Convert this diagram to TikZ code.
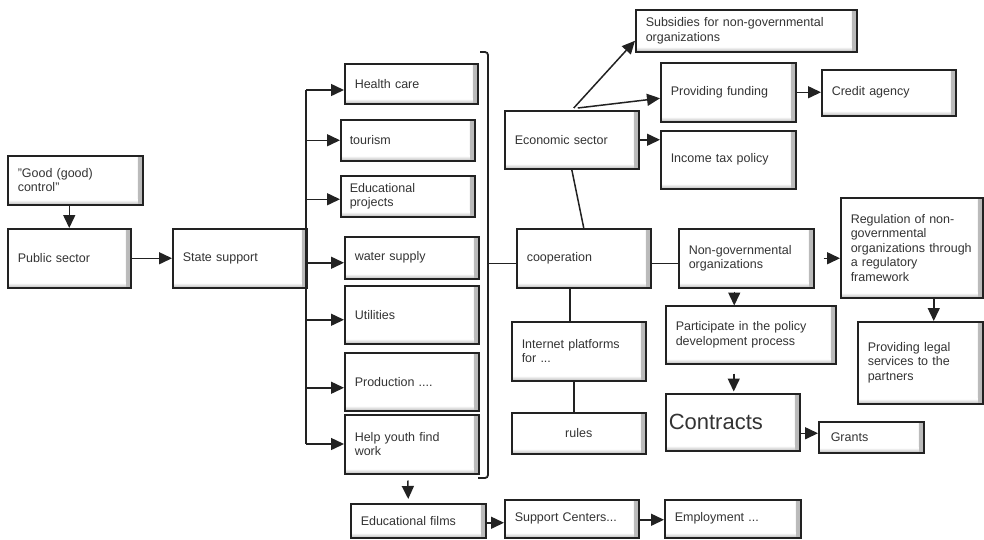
\documentclass[tikz,border=0pt]{standalone}
\usepackage{fontspec}
\setmainfont{Liberation Sans}
\usetikzlibrary{arrows.meta,calc}
\definecolor{ink}{HTML}{222222}
\definecolor{txt}{HTML}{333333}
\tikzset{
  box/.style={draw=ink, line width=1.5pt, anchor=north west, align=left,
    inner xsep=10pt, inner ysep=2pt, text=txt,
    font=\fontsize{12.5}{14.5}\selectfont,
    path picture={
      \shade[left color=white, right color=gray!55]
        ([xshift=-5pt]path picture bounding box.north east) rectangle (path picture bounding box.south east);
      \shade[top color=white, bottom color=gray!55]
        ([yshift=5pt]path picture bounding box.south west) rectangle ([xshift=-5pt]path picture bounding box.south east);
    }},
  arr/.style={draw=ink, line width=1.5pt, -{Triangle[length=13pt,width=12pt]}},
  ln/.style={draw=ink, line width=1.5pt},
}
\begin{document}
\begin{tikzpicture}[x=1pt,y=-1pt]
\useasboundingbox (0,0) rectangle (984,539);
% left part
\node[box, text width=115pt, minimum height=49pt] (gc) at (7,155) {"Good (good)\\control"};
\node[box, text width=103pt, minimum height=59pt] (ps) at (7,228) {Public sector};
\node[box, text width=114pt, minimum height=59pt] (ss) at (172,228) {State support};
% column
\node[box, text width=113pt, minimum height=40pt] (hc) at (344,63) {Health care};
\node[box, minimum height=41pt, inner xsep=9pt, text width=116pt] (tour) at (340,119) {tourism};
\node[box, text width=116pt, minimum height=41pt, inner xsep=9pt] (edp) at (340,175) {Educational\\projects};
\node[box, text width=114pt, minimum height=42pt] (ws) at (344,236) {water supply};
\node[box, text width=114pt, minimum height=58pt] (util) at (344,285) {Utilities};
\node[box, text width=114pt, minimum height=58pt] (prod) at (344,352) {Production ....};
\node[box, text width=114pt, minimum height=59pt] (hy) at (344,414) {Help youth find\\work};
% bottom row
\node[box, text width=115pt, minimum height=34pt] (ef) at (350,503) {Educational films};
\node[box, text width=114pt, minimum height=38pt] (sc) at (504,499) {Support Centers...};
\node[box, text width=116pt, minimum height=38pt] (emp) at (664,499) {Employment ...};
% right part
\node[box, text width=201pt, minimum height=42pt] (sub) at (635,9) {Subsidies for non-governmental\\organizations};
\node[box, text width=115pt, minimum height=59pt] (fund) at (660,62) {Providing funding};
\node[box, text width=114pt, minimum height=46pt] (cred) at (821,69) {Credit agency};
\node[box, text width=115pt, minimum height=58pt] (tax) at (660,130) {Income tax policy};
\node[box, text width=114pt, minimum height=58pt] (eco) at (504,110) {Economic sector};
\node[box, text width=114pt, minimum height=59pt] (coop) at (516,228) {cooperation};
\node[box, text width=115pt, minimum height=59pt] (ngo) at (678,228) {Non-governmental\\organizations};
\node[box, text width=122pt, minimum height=100pt] (reg) at (840,197) {Regulation of non-\\governmental\\organizations through\\a regulatory\\framework};
\node[box, text width=105pt, minimum height=82pt] (legal) at (857,321) {Providing legal\\services to the\\partners};
\node[box, text width=150pt, minimum height=58pt] (part) at (665,305) {Participate in the policy\\development process};
\node[box, text width=128pt, minimum height=57pt, inner xsep=3pt, font=\fontsize{22}{26}\selectfont] (contr) at (665,393) {Contracts};
\node[box, minimum height=31pt, inner xsep=12pt, text width=81pt] (grants) at (818,421) {Grants};
\node[box, text width=114pt, minimum height=59pt] (inet) at (511,321) {Internet platforms\\for ...};
\node[box, text width=114pt, minimum height=41pt, align=center] (rules) at (511,412) {rules};
% trunk
\coordinate (trT) at (306,90);
\coordinate (trB) at (306,444);
\draw[ln] (trT) -- (trB);
\draw[arr] (gc.south -| ps.north) -- (ps.north);
\draw[arr] (ps.east) -- (ss.west);
\draw[arr] (trT) -- (trT -| hc.west);
\draw[arr] (tour.west -| trT) -- (tour.west);
\draw[arr] ([yshift=-3pt]edp.west -| trT) -- ([yshift=-3pt]edp.west);
\draw[arr] ([yshift=-5pt]ws.west -| trT) -- ([yshift=-5pt]ws.west);
\draw[arr] ([yshift=-5pt]util.west -| trT) -- ([yshift=-5pt]util.west);
\draw[arr] ([yshift=-6pt]prod.west -| trT) -- ([yshift=-6pt]prod.west);
\draw[arr] (trB) -- (trB -| hy.west);
% bracket
\coordinate (brT) at (480,52);
\coordinate (brX) at (488,52);
\coordinate (brB) at (478,478);
\draw[ln, line width=1.8pt, rounded corners=3pt] (brT) -- (brX) -- (brX |- brB) -- (brB);
\draw[ln] ([yshift=-5pt]coop.west -| brX) -- ([yshift=-5pt]coop.west);
% bottom row arrows
\coordinate (hyo) at ($(hy.south)+(-4,6)$);
\coordinate (efi) at ($(ef.north)+(-10,-4)$);
\draw[arr] (hyo) -- (efi);
\draw[arr] ([yshift=-2pt]ef.east) -- ([yshift=-2pt]ef.east -| sc.west);
\draw[arr] ([yshift=-1pt]sc.east) -- ([yshift=-1pt]sc.east -| emp.west);
% economic sector
\coordinate (eo1) at ($(eco.north)+(2,-2)$);
\coordinate (eo2) at ($(eco.north)+(6,-2)$);
\draw[arr] (eo1) -- ([yshift=-10pt]sub.west);
\draw[arr] (eo2) -- ([yshift=-6pt]fund.west);
\draw[arr] (eco.east) -- (eco.east -| tax.west);
\draw[ln] (eco.south) -- (coop.north);
\draw[arr] (fund.east) -- (fund.east -| cred.west);
% cooperation
\draw[ln] ([yshift=-5pt]coop.east) -- ([yshift=-5pt]coop.east -| ngo.west);
\coordinate (ci) at ($(coop.south)+(-14,0)$);
\draw[ln] (ci) -- (ci |- inet.north);
\coordinate (ir) at ($(inet.south)+(-5,0)$);
\draw[ln] (ir) -- (ir |- rules.north);
% ngo
\coordinate (ngr) at ($(ngo.east)+(9,0)$);
\draw[arr] (ngr) -- (ngo.east -| reg.west);
\coordinate (np1) at ($(ngo.south)+(-12,3)$);
\coordinate (np2) at ($(ngo.south)+(-12,17)$);
\draw[arr] (np1) -- (np2);
\coordinate (pc1) at ($(part.south)+(-17,9)$);
\coordinate (pc2) at ($(part.south)+(-17,27)$);
\draw[arr] (pc1) -- (pc2);
\draw[arr] ([xshift=22pt]reg.south) -- ([xshift=22pt]reg.south |- legal.north);
\draw[arr] ([yshift=4pt]grants.west -| contr.east) -- ([yshift=4pt]grants.west);
\end{tikzpicture}
\end{document}
